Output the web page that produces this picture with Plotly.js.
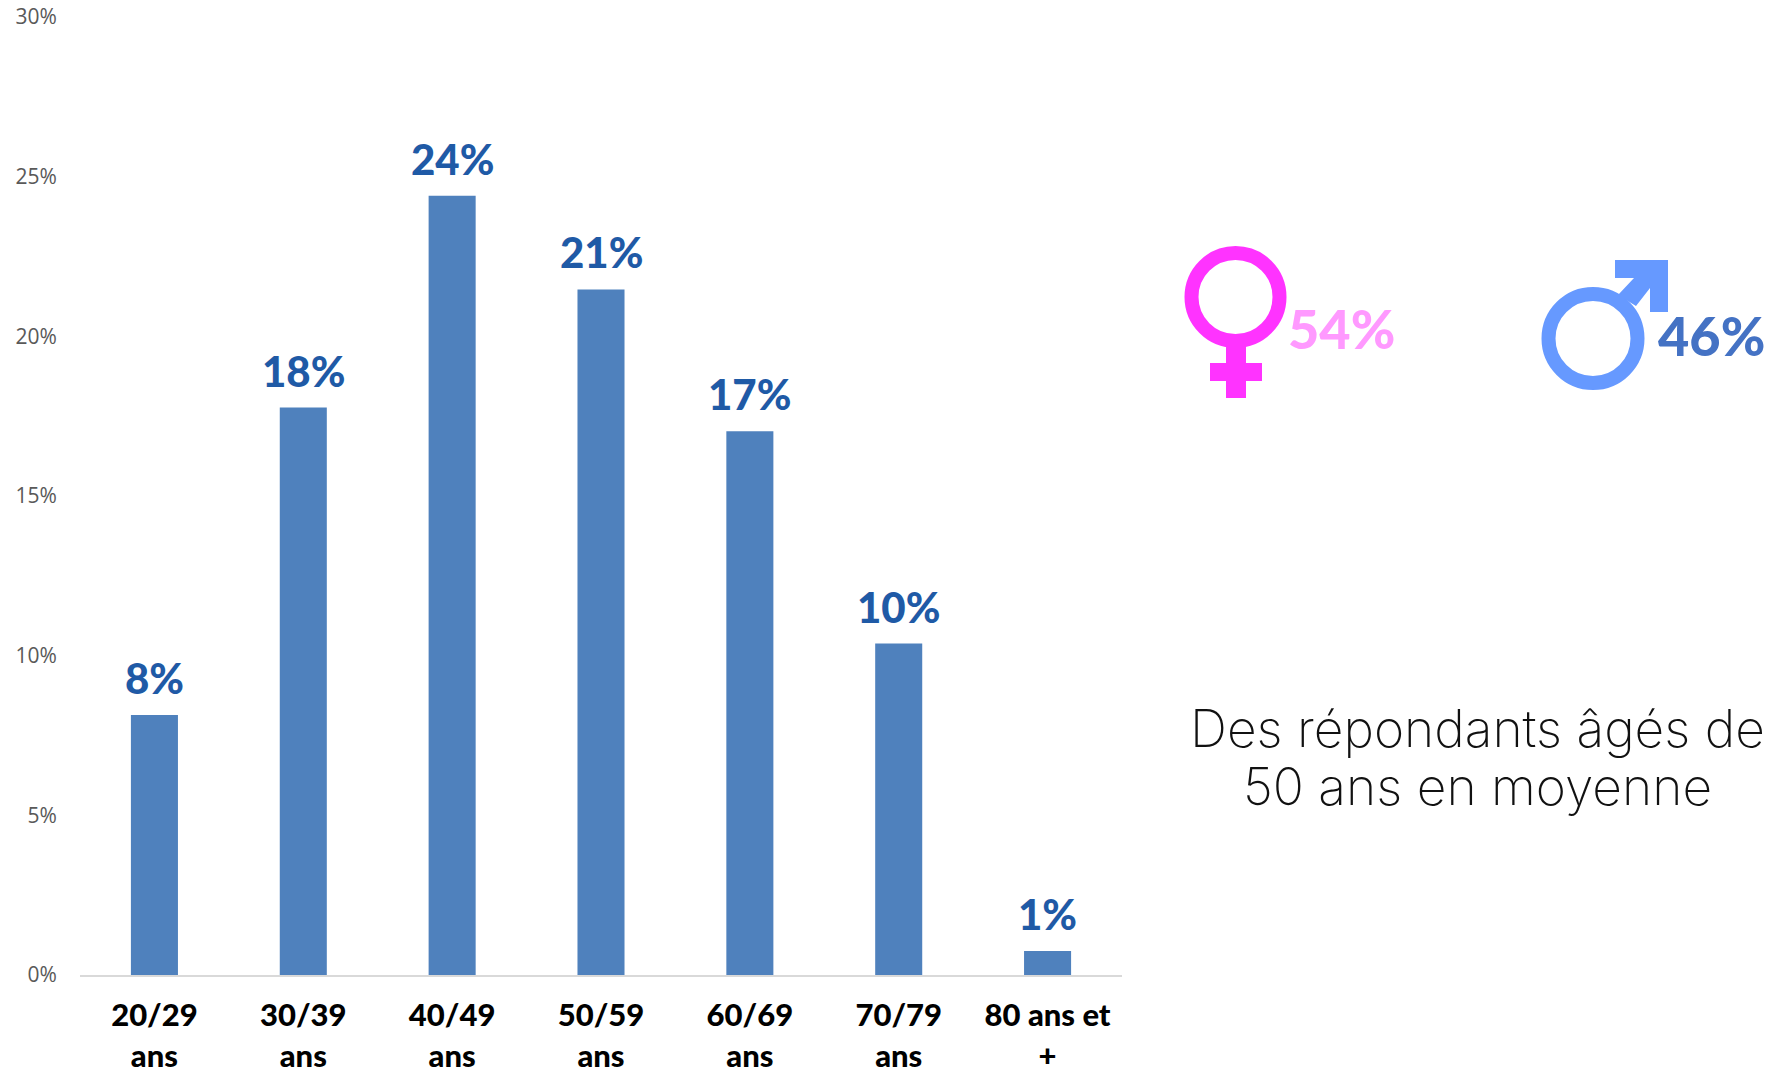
<!DOCTYPE html>
<html><head><meta charset="utf-8">
<script src="https://cdn.plot.ly/plotly-3.0.1.min.js"></script>
<style>html,body{margin:0;padding:0;background:#fff;overflow:hidden}</style></head>
<body><div id="chart" style="width:1780px;height:1069px"></div>
<script>
const categories = ["20/29<br>ans","30/39<br>ans","40/49<br>ans","50/59<br>ans","60/69<br>ans","70/79<br>ans","80 ans et<br>+"];
const values = [8.14,17.77,24.4,21.47,17.03,10.38,0.75];
const valueLabels = ["8%","18%","24%","21%","17%","10%","1%"];
const yTicks = [0,5,10,15,20,25,30];
const yTickLabels = ["0%","5%","10%","15%","20%","25%","30%"];
const genderLabels = ["54%","46%"];
const ageNoteLines = ["Des répondants âgés de","50 ans en moyenne"];

const W=1780,H=1069;
const px=x=>x/W, py=y=>1-y/H;
const BOLD='Lato, "Open Sans", sans-serif';
const pinkRing='#FF33FF', blueRing='#6699FF';

function rect(x0,y0,x1,y1,c){return {type:'rect',xref:'paper',yref:'paper',x0:px(x0),x1:px(x1),y0:py(y0),y1:py(y1),fillcolor:c,line:{width:0}};}
function ring(cx,cy,r,w,c){return {type:'circle',xref:'paper',yref:'paper',x0:px(cx-r),x1:px(cx+r),y0:py(cy+r),y1:py(cy-r),fillcolor:'rgba(0,0,0,0)',line:{color:c,width:w}};}
const arrowPts=[[1615,260],[1668,260],[1668,312],[1650,312],[1650,288],[1636,306],[1618,295],[1634,278],[1615,278]];
const arrowPath='M'+arrowPts.map(p=>px(p[0])+','+py(p[1])).join(' L')+' Z';

const shapes=[
 ring(1235.5,297,44,14,pinkRing),
 rect(1226,343,1246,398,pinkRing),
 rect(1210,363,1262,381,pinkRing),
 ring(1593,338.5,44.5,14,blueRing),
 {type:'path',xref:'paper',yref:'paper',path:arrowPath,fillcolor:blueRing,line:{width:0}}
];

const noteFont={family:'Inter, Lato, sans-serif',size:51.5,color:'#111111',weight:200};
const annotations=categories.map((c,i)=>({
 x:c,y:values[i],xref:'x',yref:'y',text:valueLabels[i],showarrow:false,xanchor:'center',
 yanchor:'bottom',yshift:10,font:{family:BOLD,size:42,color:'#1F5AA6',weight:900}
})).concat([
 {xref:'paper',yref:'paper',x:px(1341),y:py(328),xanchor:'center',yanchor:'middle',text:genderLabels[0],showarrow:false,font:{family:BOLD,size:54,color:'#FF99FF',weight:900}},
 {xref:'paper',yref:'paper',x:px(1711),y:py(335),xanchor:'center',yanchor:'middle',text:genderLabels[1],showarrow:false,font:{family:BOLD,size:54,color:'#4472C4',weight:900}},
 {xref:'paper',yref:'paper',x:px(1477),y:py(728),xanchor:'center',yanchor:'middle',text:ageNoteLines[0],showarrow:false,font:noteFont},
 {xref:'paper',yref:'paper',x:px(1477),y:py(786),xanchor:'center',yanchor:'middle',text:ageNoteLines[1],showarrow:false,font:noteFont}
]);

Plotly.newPlot('chart',[{
 type:'bar',x:categories,y:values,width:0.316,marker:{color:'#4F81BD'},hoverinfo:'x+y'
}],{
 width:W,height:H,margin:{l:0,r:0,t:0,b:0},paper_bgcolor:'#fff',plot_bgcolor:'#fff',showlegend:false,
 xaxis:{domain:[px(80),px(1122)],type:'category',automargin:false,showgrid:false,zeroline:false,showline:true,linecolor:'#D9D9D9',linewidth:2,
  ticks:'outside',ticklen:12,tickcolor:'rgba(0,0,0,0)',tickangle:0,
  tickfont:{family:BOLD,size:31,color:'#000',weight:900}},
 yaxis:{domain:[py(975),py(17)],range:[0,30],automargin:false,showgrid:false,zeroline:false,showline:false,
  tickmode:'array',tickvals:yTicks,ticktext:yTickLabels,ticks:'outside',ticklen:18,tickcolor:'rgba(0,0,0,0)',
  tickfont:{family:'"Open Sans", sans-serif',size:21,color:'#595959'}},
 shapes,annotations
},{displayModeBar:false});
</script></body></html>
